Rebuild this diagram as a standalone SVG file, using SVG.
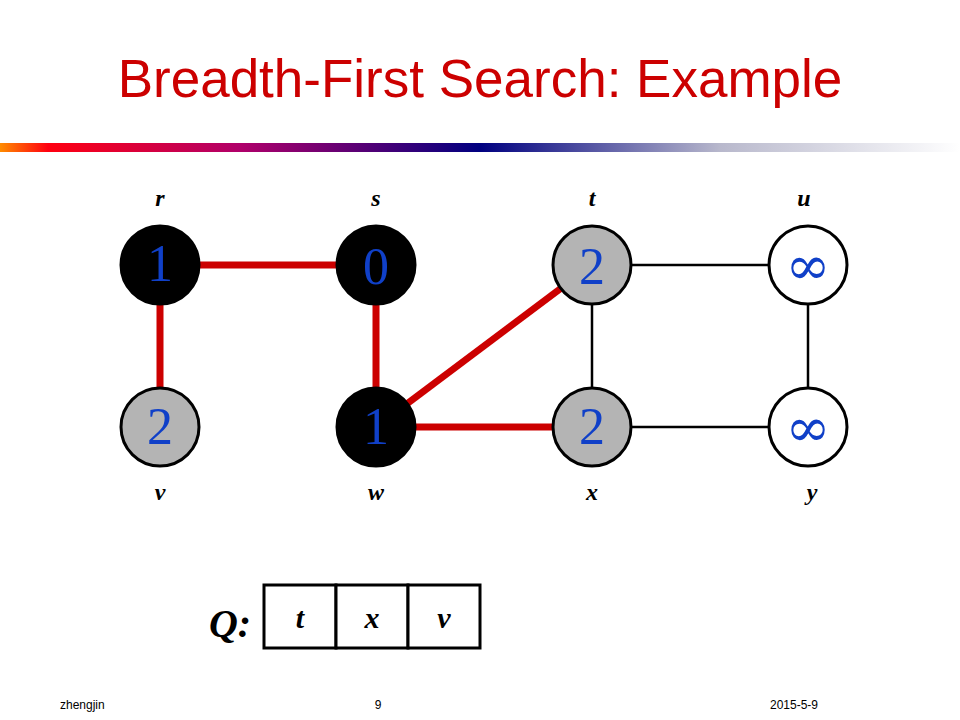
<svg xmlns="http://www.w3.org/2000/svg" width="960" height="720" viewBox="0 0 960 720">
<defs>
<linearGradient id="bar" x1="0" y1="0" x2="1" y2="0">
<stop offset="0" stop-color="#FF8C00"/>
<stop offset="0.05" stop-color="#FF0010"/>
<stop offset="0.25" stop-color="#B0006A"/>
<stop offset="0.5" stop-color="#000080"/>
<stop offset="0.75" stop-color="#B8B8CC"/>
<stop offset="1" stop-color="#FFFFFF"/>
</linearGradient>
<style>
.title{font-family:"Liberation Sans",Arial,sans-serif;font-size:53px;fill:#CC0000;text-anchor:middle}
.lbl{font-family:"Liberation Serif","Times New Roman",serif;font-size:24px;font-style:italic;font-weight:bold;text-anchor:middle;fill:#000}
.num{font-family:"Liberation Serif","Times New Roman",serif;font-size:52px;text-anchor:middle;fill:#1040C8}
.inf{font-family:"DejaVu Serif","Liberation Serif",serif;font-size:54px;text-anchor:middle;fill:#1040C8}
.blk{fill:#000;stroke:#000;stroke-width:3}
.gry{fill:#B4B4B4;stroke:#000;stroke-width:3}
.wht{fill:#fff;stroke:#000;stroke-width:3}
.tree{stroke:#CC0000;stroke-width:7;fill:none}
.edge{stroke:#000;stroke-width:2.5;fill:none}
.foot{font-family:"Liberation Sans",Arial,sans-serif;font-size:12px;fill:#000}
.q{font-family:"Liberation Serif","Times New Roman",serif;font-style:italic;font-weight:bold;fill:#000;text-anchor:middle}
.cell{fill:#fff;stroke:#000;stroke-width:3}
</style>
</defs>
<rect width="960" height="720" fill="#fff"/>
<text class="title" x="480" y="97">Breadth-First Search: Example</text>
<rect x="0" y="143" width="960" height="9" fill="url(#bar)"/>
<g id="connectors">
<line class="tree" x1="160" y1="265" x2="376" y2="265"/>
<line class="tree" x1="160" y1="265" x2="160" y2="427"/>
<line class="tree" x1="376" y1="265" x2="376" y2="427"/>
<line class="tree" x1="376" y1="427" x2="592" y2="265"/>
<line class="tree" x1="376" y1="427" x2="592" y2="427"/>
<line class="edge" x1="592" y1="265" x2="808" y2="265"/>
<line class="edge" x1="592" y1="265" x2="592" y2="427"/>
<line class="edge" x1="808" y1="265" x2="808" y2="427"/>
<line class="edge" x1="592" y1="427" x2="808" y2="427"/>
</g>
<g id="node-r"><circle class="blk" cx="160" cy="265" r="39"/><text class="num" x="160" y="281">1</text><text class="lbl" x="160" y="206">r</text></g>
<g id="node-s"><circle class="blk" cx="376" cy="265" r="39"/><text class="num" x="376" y="284">0</text><text class="lbl" x="376" y="206">s</text></g>
<g id="node-t"><circle class="gry" cx="592" cy="265" r="39"/><text class="num" x="592" y="284">2</text><text class="lbl" x="592" y="206">t</text></g>
<g id="node-u"><circle class="wht" cx="808" cy="265" r="39"/><text class="inf" x="808" y="284">∞</text><text class="lbl" x="804" y="206">u</text></g>
<g id="node-v"><circle class="gry" cx="160" cy="427" r="39"/><text class="num" x="160" y="444">2</text><text class="lbl" x="160" y="500">v</text></g>
<g id="node-w"><circle class="blk" cx="376" cy="427" r="39"/><text class="num" x="376" y="444">1</text><text class="lbl" x="376" y="500">w</text></g>
<g id="node-x"><circle class="gry" cx="592" cy="427" r="39"/><text class="num" x="592" y="444">2</text><text class="lbl" x="592" y="500">x</text></g>
<g id="node-y"><circle class="wht" cx="808" cy="427" r="39"/><text class="inf" x="808" y="446">∞</text><text class="lbl" x="812" y="500">y</text></g>
<g id="queue">
<text class="q" x="230" y="637" font-size="40">Q:</text>
<rect class="cell" x="264" y="585" width="72" height="63"/>
<rect class="cell" x="336" y="585" width="72" height="63"/>
<rect class="cell" x="408" y="585" width="72" height="63"/>
<text class="q" x="300" y="628" font-size="30">t</text>
<text class="q" x="372" y="628" font-size="30">x</text>
<text class="q" x="444" y="628" font-size="30">v</text>
</g>
<text class="foot" x="60" y="709">zhengjin</text>
<text class="foot" x="378" y="709" text-anchor="middle">9</text>
<text class="foot" x="770" y="709">2015-5-9</text>
</svg>
